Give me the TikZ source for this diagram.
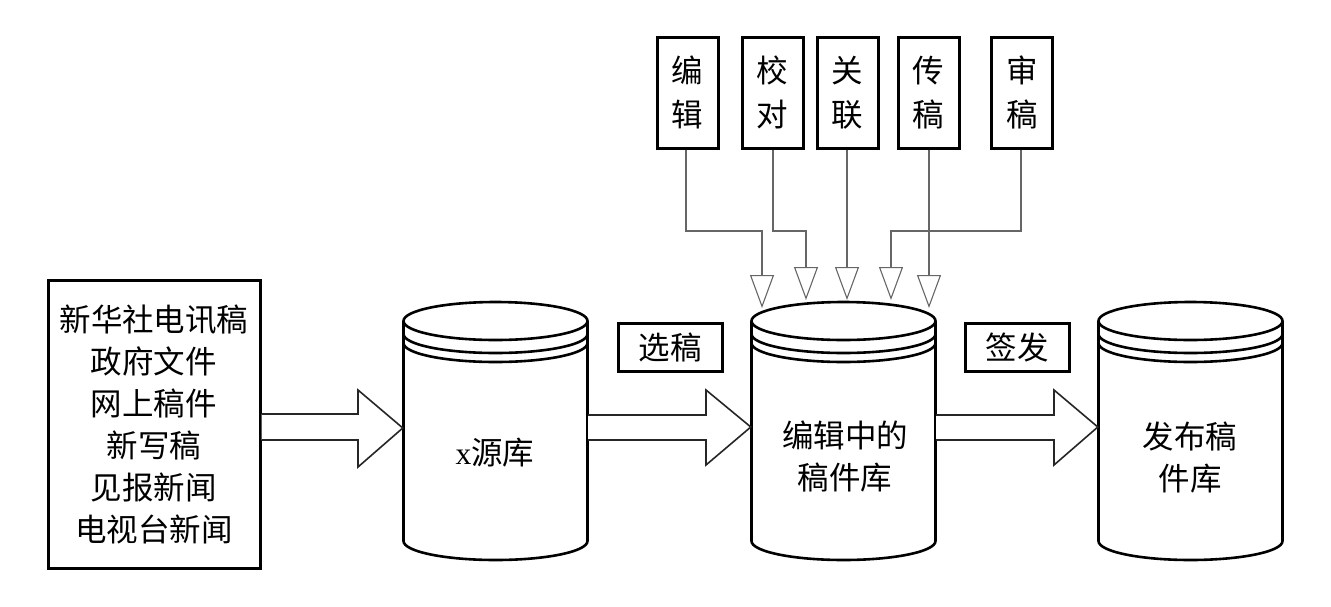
\documentclass[tikz,border=0pt]{standalone}
\usepackage{fontspec}
\setmainfont{Liberation Serif}
\newfontfamily\cjk{Noto Sans CJK SC}[Scale=1]
\usetikzlibrary{arrows.meta}
\tikzset{
  thickbox/.style={draw=black, line width=3pt, fill=white},
  cylline/.style={draw=black, line width=2.6pt},
  bigarrow/.style={draw=black!85, line width=1.6pt, fill=white, line join=miter},
  conn/.style={draw=black!60, line width=1.1pt,
    -{Triangle[open, width=24pt, length=33pt, line width=1.1pt]}},
  txt/.style={font=\cjk\fontsize{31.5}{42}\selectfont, align=center, inner sep=0pt},
  vbox/.style={thickbox, minimum width=61pt, minimum height=111pt, txt, font=\cjk\fontsize{31.5}{44}\selectfont},
  lbox/.style={thickbox, minimum width=104pt, minimum height=48pt, txt},
  dbcyl/.pic={
    \draw[cylline, fill=white] (-92,0) -- (-92,220) arc[start angle=180, end angle=0, x radius=92, y radius=19] -- (92,0);
    \draw[cylline] (0,0) ellipse[x radius=92, y radius=19];
    \draw[cylline] (-92,13) arc[start angle=180, end angle=0, x radius=92, y radius=19];
    \draw[cylline] (-92,22) arc[start angle=180, end angle=0, x radius=92, y radius=19];
  }
}
\begin{document}
\begin{tikzpicture}[x=1pt, y=-1pt]
\useasboundingbox (0,0) rectangle (1331,606);
% sources box
\node[thickbox, minimum width=212pt, minimum height=288pt, txt] (src) at (154,424)
  {新华社电讯稿\\政府文件\\网上稿件\\新写稿\\见报新闻\\电视台新闻};
% cylinders
\pic at (495.5,321) {dbcyl};
\pic at (843.5,321) {dbcyl};
\pic at (1190.5,321) {dbcyl};
\node[minimum width=185pt, minimum height=258pt, inner sep=0pt] (db1) at (495.5,431) {};
\node[minimum width=185pt, minimum height=258pt, inner sep=0pt] (db2) at (843.5,431) {};
\node[minimum width=185pt, minimum height=258pt, inner sep=0pt] (db3) at (1190.5,431) {};
\node[txt] (t1) at (495,453) {{\fontspec{Liberation Serif}x}源库};
\node[txt] (t2) at (845,457) {编辑中的\\稿件库};
\node[txt] (t3) at (1190,458) {发布稿\\件库};
% big hollow arrows
\draw[bigarrow] (src.east |- 0,414) -- (358,414) -- (358,390) -- (db1.west |- 0,428) -- (358,467) -- (358,440) -- (src.east |- 0,440);
\draw[bigarrow] (db1.east |- 0,415) -- (706,415) -- (706,390) -- (db2.west |- 0,427) -- (706,465) -- (706,440) -- (db1.east |- 0,440);
\draw[bigarrow] (db2.east |- 0,415) -- (1054,415) -- (1054,390) -- (db3.west |- 0,427) -- (1054,465) -- (1054,440) -- (db2.east |- 0,440);
% labels
\node[lbox] (xg) at (670,347) {选稿};
\node[lbox] (qf) at (1017,347) {签发};
% top boxes
\node[vbox] (b1) at (687.5,92.5) {编\\辑};
\node[vbox] (b2) at (772.5,92.5) {校\\对};
\node[vbox] (b3) at (847.5,92.5) {关\\联};
\node[vbox] (b4) at (928.5,92.5) {传\\稿};
\node[vbox] (b5) at (1022,92.5) {审\\稿};
\coordinate (e1) at (762,308);
\coordinate (e2) at (806,300);
\coordinate (e3) at (847,300);
\coordinate (e4) at (891,300);
\coordinate (e5) at (929,308);
\draw[conn] (b1.south -| 686,0) |- (762,231) -- (e1);
\draw[conn] (b2.south -| 773,0) |- (806,231) -- (e2);
\draw[conn] (b3.south -| 847,0) -- (e3);
\draw[conn] (b4.south -| 929,0) -- (e5);
\draw[conn] (b5.south -| 1021,0) |- (891,231) -- (e4);
\end{tikzpicture}
\end{document}
